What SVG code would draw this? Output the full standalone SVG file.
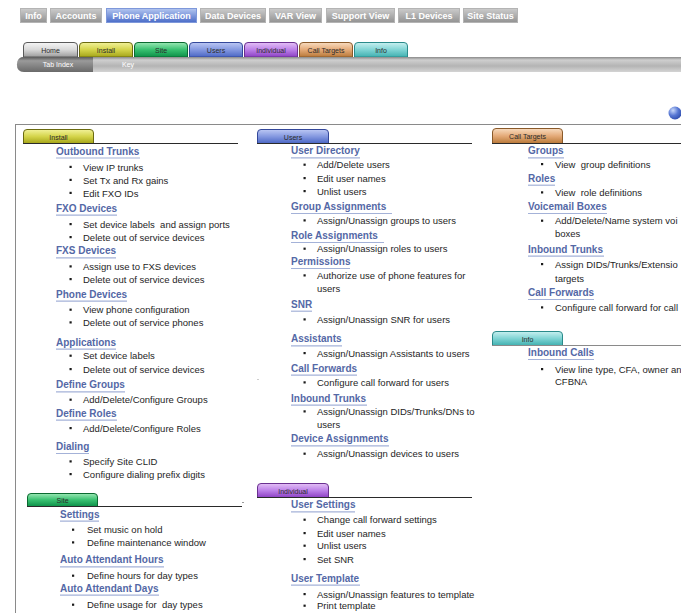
<svg xmlns="http://www.w3.org/2000/svg" width="681" height="613" viewBox="0 0 681 613">
<defs>
<linearGradient id="gTop" x1="0" y1="0" x2="0" y2="1"><stop offset="0" stop-color="#cccccc"/><stop offset="1" stop-color="#929292"/></linearGradient>
<linearGradient id="gTopSel" x1="0" y1="0" x2="0" y2="1"><stop offset="0" stop-color="#b4c6f0"/><stop offset="1" stop-color="#4a6cc8"/></linearGradient>
<linearGradient id="gHome" x1="0" y1="0" x2="0" y2="1"><stop offset="0" stop-color="#f6f6f6"/><stop offset="0.5" stop-color="#d8d8d8"/><stop offset="1" stop-color="#9c9c9c"/></linearGradient>
<linearGradient id="gInstall" x1="0" y1="0" x2="0" y2="1"><stop offset="0" stop-color="#f2f29a"/><stop offset="0.5" stop-color="#d4d44a"/><stop offset="1" stop-color="#a4a418"/></linearGradient>
<linearGradient id="gSite" x1="0" y1="0" x2="0" y2="1"><stop offset="0" stop-color="#9ae8b4"/><stop offset="0.5" stop-color="#38c070"/><stop offset="1" stop-color="#0c9048"/></linearGradient>
<linearGradient id="gUsers" x1="0" y1="0" x2="0" y2="1"><stop offset="0" stop-color="#bcc8f4"/><stop offset="0.5" stop-color="#8498e0"/><stop offset="1" stop-color="#4a66c4"/></linearGradient>
<linearGradient id="gIndiv" x1="0" y1="0" x2="0" y2="1"><stop offset="0" stop-color="#e4c0f6"/><stop offset="0.5" stop-color="#bc80e8"/><stop offset="1" stop-color="#8c40c4"/></linearGradient>
<linearGradient id="gCall" x1="0" y1="0" x2="0" y2="1"><stop offset="0" stop-color="#f8dcc0"/><stop offset="0.5" stop-color="#e4aa78"/><stop offset="1" stop-color="#b87838"/></linearGradient>
<linearGradient id="gInfo" x1="0" y1="0" x2="0" y2="1"><stop offset="0" stop-color="#c8f0f0"/><stop offset="0.5" stop-color="#80d4d4"/><stop offset="1" stop-color="#40b0b0"/></linearGradient>
<linearGradient id="gBar" x1="0" y1="0" x2="0" y2="1"><stop offset="0" stop-color="#8a8a8a"/><stop offset="0.2" stop-color="#cfcfcf"/><stop offset="0.6" stop-color="#b4b4b4"/><stop offset="1" stop-color="#d4d4d4"/></linearGradient>
<linearGradient id="gBarSel" x1="0" y1="0" x2="0" y2="1"><stop offset="0" stop-color="#5a5a5a"/><stop offset="0.25" stop-color="#9a9a9a"/><stop offset="1" stop-color="#6a6a6a"/></linearGradient>
<radialGradient id="gBall" cx="0.35" cy="0.3" r="0.8"><stop offset="0" stop-color="#c8d8fa"/><stop offset="0.5" stop-color="#5878d4"/><stop offset="1" stop-color="#2a48a8"/></radialGradient>
<rect id="b" width="2.2" height="2.2" fill="#1a1a1a"/>
</defs>
<style>
.tt{font-family:"Liberation Sans",Arial,sans-serif;font-size:9px;font-weight:bold;fill:#ffffff;text-anchor:middle}
.tb{stroke:#b4b4b4;stroke-width:1}
.st{font-family:"Liberation Sans",Arial,sans-serif;font-size:7px;fill:#2a2a2a;text-anchor:middle}
.bt{font-family:"Liberation Sans",Arial,sans-serif;font-size:7px;fill:#ffffff;text-anchor:middle}
.h{font-family:"Liberation Sans",Arial,sans-serif;font-size:10px;font-weight:bold;fill:#5468a6}
.t{font-family:"Liberation Sans",Arial,sans-serif;font-size:9.5px;fill:#1e1e1e;white-space:pre}
.ul{stroke:#a4b2d8;stroke-width:1.2}
.sec{stroke:#2a2a2a;stroke-width:1}
</style>
<rect width="681" height="613" fill="#ffffff"/>

<g id="top-tabs">
<rect class="tb" x="20.5" y="8.5" width="26" height="14" fill="url(#gTop)"/><text class="tt" x="33.5" y="19">Info</text>
<rect class="tb" x="50.5" y="8.5" width="51" height="14" fill="url(#gTop)"/><text class="tt" x="76" y="19">Accounts</text>
<rect x="106.5" y="8.5" width="90" height="14" fill="url(#gTopSel)" stroke="#7e98da"/><text class="tt" x="151.5" y="19">Phone Application</text>
<rect class="tb" x="200.5" y="8.5" width="65" height="14" fill="url(#gTop)"/><text class="tt" x="233" y="19">Data Devices</text>
<rect class="tb" x="269.5" y="8.5" width="52" height="14" fill="url(#gTop)"/><text class="tt" x="295.5" y="19">VAR View</text>
<rect class="tb" x="326.5" y="8.5" width="68" height="14" fill="url(#gTop)"/><text class="tt" x="360.5" y="19">Support View</text>
<rect class="tb" x="398.5" y="8.5" width="61" height="14" fill="url(#gTop)"/><text class="tt" x="429" y="19">L1 Devices</text>
<rect class="tb" x="463.5" y="8.5" width="54" height="14" fill="url(#gTop)"/><text class="tt" x="490.5" y="19">Site Status</text>
</g>

<g id="nav-tabs">
<path d="M23.5,57V46Q23.5,42.5 27,42.5H74Q77.5,42.5 77.5,46V57Z" fill="url(#gHome)" stroke="#5a5a5a"/><text class="st" x="50.5" y="52.5">Home</text>
<path d="M79.5,57V46Q79.5,42.5 83,42.5H129Q132.5,42.5 132.5,46V57Z" fill="url(#gInstall)" stroke="#6a6a10"/><text class="st" x="106" y="52.5">Install</text>
<path d="M134.5,57V46Q134.5,42.5 138,42.5H184Q187.5,42.5 187.5,46V57Z" fill="url(#gSite)" stroke="#0a6a30"/><text class="st" x="161" y="52.5">Site</text>
<path d="M189.5,57V46Q189.5,42.5 193,42.5H239Q242.5,42.5 242.5,46V57Z" fill="url(#gUsers)" stroke="#34489a"/><text class="st" x="216" y="52.5">Users</text>
<path d="M244.5,57V46Q244.5,42.5 248,42.5H294Q297.5,42.5 297.5,46V57Z" fill="url(#gIndiv)" stroke="#6a3090"/><text class="st" x="271" y="52.5">Individual</text>
<path d="M299.5,57V46Q299.5,42.5 303,42.5H349Q352.5,42.5 352.5,46V57Z" fill="url(#gCall)" stroke="#8a5a2a"/><text class="st" x="326" y="52.5">Call Targets</text>
<path d="M354.5,57V46Q354.5,42.5 358,42.5H404Q407.5,42.5 407.5,46V57Z" fill="url(#gInfo)" stroke="#2a8a8a"/><text class="st" x="381" y="52.5">Info</text>
</g>

<g id="index-bar">
<path d="M681,57H24Q17,57 17,64.5Q17,72 24,72H681Z" fill="url(#gBar)"/>
<path d="M93,57H24Q17,57 17,64.5Q17,72 24,72H93Z" fill="url(#gBarSel)"/>
<text class="bt" x="58" y="67">Tab Index</text>
<text class="bt" x="128" y="67">Key</text>
</g>

<circle id="ball" cx="675" cy="113" r="6.5" fill="url(#gBall)"/>

<g id="frame">
<line x1="15" y1="124.5" x2="681" y2="124.5" stroke="#8a8a8a"/>
<line x1="15.5" y1="124" x2="15.5" y2="613" stroke="#8a8a8a"/>
</g>

<g id="install">
<path d="M23.5,143.5V133Q23.5,129.5 27,129.5H90Q93.5,129.5 93.5,133V143.5Z" fill="url(#gInstall)" stroke="#6a6a10"/>
<text class="st" x="58.5" y="139.5">Install</text>
<line class="sec" x1="23" y1="143.5" x2="238" y2="143.5"/>
<text class="h" x="56" y="154.5">Outbound Trunks</text><line class="ul" x1="56" y1="158" x2="140" y2="158"/>
<use href="#b" x="69.5" y="165.8"/><text class="t" x="83" y="170.5">View IP trunks</text>
<use href="#b" x="69.5" y="178.8"/><text class="t" x="83" y="183.5">Set Tx and Rx gains</text>
<use href="#b" x="69.5" y="191.8"/><text class="t" x="83" y="196.5">Edit FXO IDs</text>
<text class="h" x="56" y="211.7">FXO Devices</text><line class="ul" x1="56" y1="215.2" x2="117" y2="215.2"/>
<use href="#b" x="69.5" y="223"/><text class="t" x="83" y="227.7" xml:space="preserve">Set device labels  and assign ports</text>
<use href="#b" x="69.5" y="236"/><text class="t" x="83" y="240.7">Delete out of service devices</text>
<text class="h" x="56" y="254.3">FXS Devices</text><line class="ul" x1="56" y1="257.8" x2="116" y2="257.8"/>
<use href="#b" x="69.5" y="265.3"/><text class="t" x="83" y="270">Assign use to FXS devices</text>
<use href="#b" x="69.5" y="278"/><text class="t" x="83" y="282.7">Delete out of service devices</text>
<text class="h" x="56" y="297.7">Phone Devices</text><line class="ul" x1="56" y1="301.2" x2="127" y2="301.2"/>
<use href="#b" x="69.5" y="308.6"/><text class="t" x="83" y="313.3">View phone configuration</text>
<use href="#b" x="69.5" y="321.3"/><text class="t" x="83" y="326">Delete out of service phones</text>
<text class="h" x="56" y="345.7">Applications</text><line class="ul" x1="56" y1="349.2" x2="116" y2="349.2"/>
<use href="#b" x="69.5" y="354.6"/><text class="t" x="83" y="359.3">Set device labels</text>
<use href="#b" x="69.5" y="368"/><text class="t" x="83" y="372.7">Delete out of service devices</text>
<text class="h" x="56" y="388.3">Define Groups</text><line class="ul" x1="56" y1="391.8" x2="125" y2="391.8"/>
<use href="#b" x="69.5" y="398.6"/><text class="t" x="83" y="403.3">Add/Delete/Configure Groups</text>
<text class="h" x="56" y="416.7">Define Roles</text><line class="ul" x1="56" y1="420.2" x2="117" y2="420.2"/>
<use href="#b" x="69.5" y="427"/><text class="t" x="83" y="431.7">Add/Delete/Configure Roles</text>
<text class="h" x="56" y="450">Dialing</text><line class="ul" x1="56" y1="453.5" x2="89" y2="453.5"/>
<use href="#b" x="69.5" y="460.3"/><text class="t" x="83" y="465">Specify Site CLID</text>
<use href="#b" x="69.5" y="473"/><text class="t" x="83" y="477.7">Configure dialing prefix digits</text>
</g>

<g id="site">
<path d="M27.5,506.5V497Q27.5,493.5 31,493.5H94Q97.5,493.5 97.5,497V506.5Z" fill="url(#gSite)" stroke="#0a6a30"/>
<text class="st" x="62.5" y="502.5">Site</text>
<line class="sec" x1="27" y1="506.5" x2="242" y2="506.5"/>
<text class="h" x="60" y="517.7">Settings</text><line class="ul" x1="60" y1="521.2" x2="99" y2="521.2"/>
<use href="#b" x="72" y="528.6"/><text class="t" x="87" y="533.3">Set music on hold</text>
<use href="#b" x="72" y="541.3"/><text class="t" x="87" y="546">Define maintenance window</text>
<text class="h" x="60" y="563.3">Auto Attendant Hours</text><line class="ul" x1="60" y1="566.8" x2="164" y2="566.8"/>
<use href="#b" x="72" y="574.6"/><text class="t" x="87" y="579.3">Define hours for day types</text>
<text class="h" x="60" y="591.7">Auto Attendant Days</text><line class="ul" x1="60" y1="595.2" x2="159" y2="595.2"/>
<use href="#b" x="72" y="603.6"/><text class="t" x="87" y="608.3" xml:space="preserve">Define usage for  day types</text>
</g>

<g id="users">
<path d="M257.5,143.5V133Q257.5,129.5 261,129.5H325Q328.5,129.5 328.5,133V143.5Z" fill="url(#gUsers)" stroke="#34489a"/>
<text class="st" x="293" y="139.5">Users</text>
<line class="sec" x1="257" y1="143.5" x2="472" y2="143.5"/>
<text class="h" x="291" y="154.3">User Directory</text><line class="ul" x1="291" y1="157.8" x2="360" y2="157.8"/>
<use href="#b" x="303.5" y="163.6"/><text class="t" x="317" y="168.3">Add/Delete users</text>
<use href="#b" x="303.5" y="177"/><text class="t" x="317" y="181.7">Edit user names</text>
<use href="#b" x="303.5" y="190"/><text class="t" x="317" y="194.7">Unlist users</text>
<text class="h" x="291" y="210">Group Assignments</text><line class="ul" x1="291" y1="213.5" x2="392" y2="213.5"/>
<use href="#b" x="303.5" y="219.3"/><text class="t" x="317" y="224">Assign/Unassign groups to users</text>
<text class="h" x="291" y="239">Role Assignments</text><line class="ul" x1="291" y1="242.5" x2="384" y2="242.5"/>
<use href="#b" x="303.5" y="247.6"/><text class="t" x="317" y="252.3">Assign/Unassign roles to users</text>
<text class="h" x="291" y="265">Permissions</text><line class="ul" x1="291" y1="268.5" x2="350" y2="268.5"/>
<use href="#b" x="303.5" y="274.3"/><text class="t" x="317" y="279">Authorize use of phone features for</text>
<text class="t" x="317" y="292">users</text>
<text class="h" x="291" y="307.7">SNR</text><line class="ul" x1="291" y1="311.2" x2="312" y2="311.2"/>
<use href="#b" x="303.5" y="318.3"/><text class="t" x="317" y="323">Assign/Unassign SNR for users</text>
<text class="h" x="291" y="342.3">Assistants</text><line class="ul" x1="291" y1="345.8" x2="342" y2="345.8"/>
<use href="#b" x="303.5" y="352"/><text class="t" x="317" y="356.7">Assign/Unassign Assistants to users</text>
<text class="h" x="291" y="371.7">Call Forwards</text><line class="ul" x1="291" y1="375.2" x2="357" y2="375.2"/>
<use href="#b" x="303.5" y="381.3"/><text class="t" x="317" y="386">Configure call forward for users</text>
<text class="h" x="291" y="401.7">Inbound Trunks</text><line class="ul" x1="291" y1="405.2" x2="367" y2="405.2"/>
<use href="#b" x="303.5" y="410.3"/><text class="t" x="317" y="415">Assign/Unassign DIDs/Trunks/DNs to</text>
<text class="t" x="317" y="428.3">users</text>
<text class="h" x="291" y="442.3">Device Assignments</text><line class="ul" x1="291" y1="445.8" x2="389" y2="445.8"/>
<use href="#b" x="303.5" y="452.6"/><text class="t" x="317" y="457.3">Assign/Unassign devices to users</text>
</g>

<g id="individual">
<path d="M257.5,497.5V487Q257.5,483.5 261,483.5H325Q328.5,483.5 328.5,487V497.5Z" fill="url(#gIndiv)" stroke="#6a3090"/>
<text class="st" x="293" y="493.5">Individual</text>
<line class="sec" x1="257" y1="497.5" x2="472" y2="497.5"/>
<text class="h" x="291" y="508.3">User Settings</text><line class="ul" x1="291" y1="511.8" x2="355" y2="511.8"/>
<use href="#b" x="303.5" y="518.6"/><text class="t" x="317" y="523.3">Change call forward settings</text>
<use href="#b" x="303.5" y="532"/><text class="t" x="317" y="536.7">Edit user names</text>
<use href="#b" x="303.5" y="544.6"/><text class="t" x="317" y="549.3">Unlist users</text>
<use href="#b" x="303.5" y="558"/><text class="t" x="317" y="562.7">Set SNR</text>
<text class="h" x="291" y="581.7">User Template</text><line class="ul" x1="291" y1="585.2" x2="360" y2="585.2"/>
<use href="#b" x="303.5" y="593"/><text class="t" x="317" y="597.7">Assign/Unassign features to template</text>
<use href="#b" x="303.5" y="604.6"/><text class="t" x="317" y="609.3">Print template</text>
</g>

<g id="call-targets">
<path d="M492.5,143.5V132Q492.5,128.5 496,128.5H559Q562.5,128.5 562.5,132V143.5Z" fill="url(#gCall)" stroke="#8a5a2a"/>
<text class="st" x="527.5" y="139">Call Targets</text>
<line class="sec" x1="492" y1="143.5" x2="681" y2="143.5"/>
<text class="h" x="528" y="154.3">Groups</text><line class="ul" x1="528" y1="157.8" x2="564" y2="157.8"/>
<use href="#b" x="541" y="163"/><text class="t" x="555" y="167.7" xml:space="preserve">View  group definitions</text>
<text class="h" x="528" y="181.7">Roles</text><line class="ul" x1="528" y1="185.2" x2="555" y2="185.2"/>
<use href="#b" x="541" y="191.3"/><text class="t" x="555" y="196" xml:space="preserve">View  role definitions</text>
<text class="h" x="528" y="210">Voicemail Boxes</text><line class="ul" x1="528" y1="213.5" x2="607" y2="213.5"/>
<use href="#b" x="541" y="219.6"/><text class="t" x="555" y="224.3">Add/Delete/Name system voi</text>
<text class="t" x="555" y="237.3">boxes</text>
<text class="h" x="528" y="252.7">Inbound Trunks</text><line class="ul" x1="528" y1="256.2" x2="604" y2="256.2"/>
<use href="#b" x="541" y="263"/><text class="t" x="555" y="267.7">Assign DIDs/Trunks/Extensio</text>
<text class="t" x="555" y="281.7">targets</text>
<text class="h" x="528" y="296">Call Forwards</text><line class="ul" x1="528" y1="299.5" x2="594" y2="299.5"/>
<use href="#b" x="541" y="306.3"/><text class="t" x="555" y="311">Configure call forward for call</text>
</g>

<g id="info">
<path d="M492.5,345.5V335Q492.5,331.5 496,331.5H559Q562.5,331.5 562.5,335V345.5Z" fill="url(#gInfo)" stroke="#2a8a8a"/>
<text class="st" x="527.5" y="341.5">Info</text>
<line x1="492" y1="345.5" x2="681" y2="345.5" stroke="#8a8a8a"/>
<text class="h" x="528" y="356">Inbound Calls</text><line class="ul" x1="528" y1="359.5" x2="594" y2="359.5"/>
<use href="#b" x="541" y="368"/><text class="t" x="555" y="372.7">View line type, CFA, owner an</text>
<text class="t" x="555" y="385">CFBNA</text>
</g>

<g id="specks">
<rect x="257.5" y="379" width="1" height="1" fill="#9a9a9a"/>
<rect x="242" y="502" width="2" height="1" fill="#9a9a9a"/>
</g>
</svg>
